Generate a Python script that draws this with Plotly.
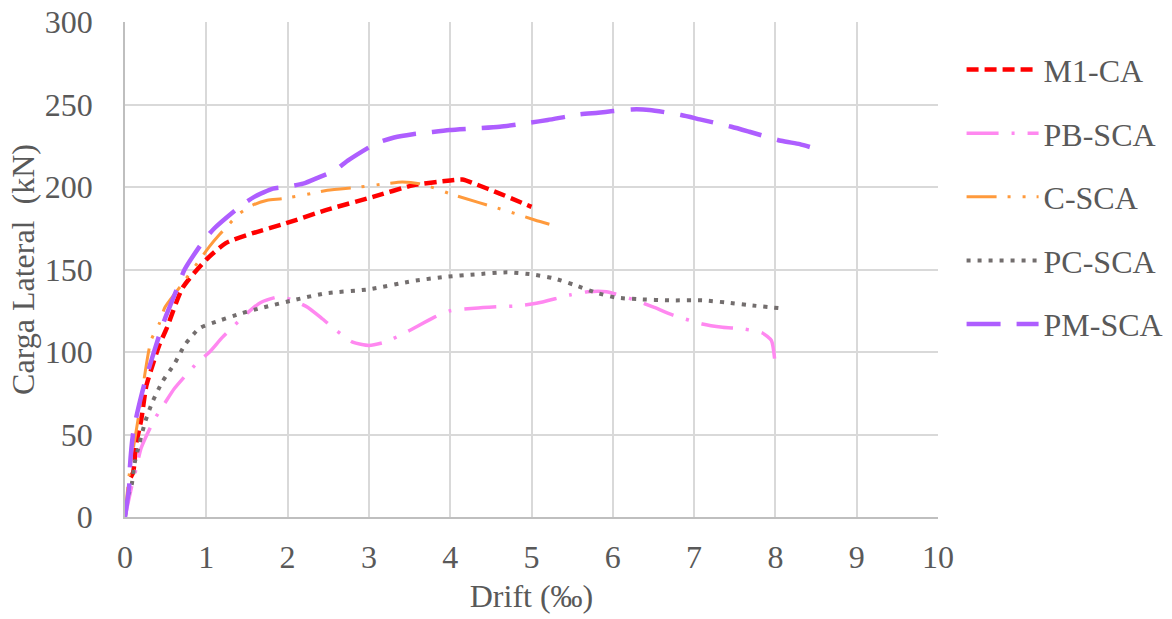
import plotly.graph_objects as go

# Lateral load vs drift curves for the tested walls
m1_ca_x = [0.07, 0.10, 0.14, 0.20, 0.26, 0.32, 0.42, 0.51, 0.71, 1.00, 1.24, 1.57, 1.98, 2.47, 3.05, 3.54, 4.00, 4.15, 4.30, 4.61, 5.00]
m1_ca_y = [24, 27, 45, 59, 79, 89, 104, 114, 139, 156, 166, 172, 178, 186, 194, 201, 204, 204.5, 202, 196, 188]

pb_sca_x = [0, 0.08, 0.14, 0.20, 0.36, 0.49, 0.61, 0.88, 1.04, 1.20, 1.49, 1.67, 1.90, 2.06, 2.25, 2.43, 2.60, 2.80, 3.00, 3.20, 3.50, 3.80, 4.00, 4.30, 4.61, 4.85, 5.06, 5.47, 5.69, 5.92, 6.30, 6.51, 6.74, 7.10, 7.35, 7.60, 7.84, 7.95, 7.99]
pb_sca_y = [0, 18, 30, 42, 59, 69, 78, 93, 100, 109, 123, 130, 133.5, 131.5, 127, 120, 113, 106, 104, 106, 113, 121, 125, 126.5, 127.5, 128, 129.5, 134.5, 136.5, 136.5, 131, 127, 122.4, 117, 115, 114, 111.5, 107, 96]

c_sca_x = [0, 0.05, 0.16, 0.32, 0.42, 0.49, 0.67, 0.92, 1.04, 1.16, 1.41, 1.57, 1.75, 1.94, 2.29, 2.49, 2.89, 3.21, 3.41, 3.62, 3.83, 3.99, 4.69, 5.04, 5.22]
c_sca_y = [0, 25, 59, 107, 117, 127, 139, 156, 164, 171, 184, 189, 192, 193, 196, 198, 200, 202, 203, 202, 199, 196, 185.6, 180, 177.4]

pc_sca_x = [0, 0.03, 0.08, 0.12, 0.18, 0.25, 0.34, 0.46, 0.61, 0.74, 0.92, 1.16, 1.43, 1.70, 2.08, 2.47, 3.00, 3.54, 3.95, 4.30, 4.70, 5.01, 5.27, 5.53, 5.79, 6.04, 6.31, 6.72, 7.11, 7.39, 7.66, 8.06]
pc_sca_y = [0, 12, 19, 33, 45, 58, 70, 82, 93, 104.6, 114.5, 119, 123.4, 127, 131.5, 135.6, 138, 143, 145.6, 147, 148.3, 147, 144.7, 140.6, 136, 133, 132, 131.3, 131.3, 130, 128.5, 126.5]

pm_sca_x = [0, 0.05, 0.06, 0.10, 0.15, 0.24, 0.30, 0.42, 0.49, 0.65, 0.73, 0.96, 1.10, 1.41, 1.59, 1.82, 1.98, 2.19, 2.39, 2.58, 2.74, 3.09, 3.31, 3.54, 3.72, 3.99, 4.61, 4.98, 5.20, 5.59, 5.82, 6.00, 6.23, 6.45, 6.84, 7.07, 7.46, 7.68, 8.07, 8.30, 8.44]
pm_sca_y = [0, 18, 30, 50.7, 63, 81, 91, 110, 120, 139.6, 149.7, 166.9, 175, 188, 194, 199, 200, 202, 206, 210, 216, 226.5, 230, 232, 233, 234.5, 236.5, 239, 240.6, 244, 245, 246, 247, 246.7, 243.6, 241, 236.5, 233.5, 228, 226, 224]

series = [
    ("M1-CA", m1_ca_x, m1_ca_y, "#FF0000", 4.5, "12px,6px"),
    ("PB-SCA", pb_sca_x, pb_sca_y, "#FF88F0", 3.5, "32px,13px,3px,13px"),
    ("C-SCA", c_sca_x, c_sca_y, "#FF9A3C", 3.0, "30px,11px,3px,12px,3px,11px"),
    ("PC-SCA", pc_sca_x, pc_sca_y, "#736E6E", 4.0, "4px,7px"),
    ("PM-SCA", pm_sca_x, pm_sca_y, "#AE5EFF", 4.5, "34px,16px"),
]

FONT = "Liberation Serif, Times New Roman, serif"
TEXT = "#595959"
FS = 32

fig = go.Figure()
for name, xs, ys, color, width, dash in series:
    fig.add_trace(go.Scatter(
        x=xs, y=ys, name=name, mode="lines", legendgroup=name,
        line=dict(color=color, width=width, dash=dash, shape="spline", smoothing=0.6),
    ))

fig.update_layout(
    width=1172, height=619,
    margin=dict(l=125, r=234, t=22, b=102, autoexpand=False),
    plot_bgcolor="white", paper_bgcolor="white",
    font=dict(family=FONT, size=FS, color=TEXT),
    legend=dict(
        x=1.029, y=0.959, xanchor="left", yanchor="top",
        font=dict(family=FONT, size=FS, color=TEXT),
        itemwidth=72, tracegroupgap=19, bgcolor="rgba(0,0,0,0)",
    ),
    showlegend=True,
)
fig.update_xaxes(
    range=[0, 10], dtick=1, tick0=0,
    showgrid=True, gridcolor="#D9D9D9", gridwidth=1.5,
    showline=True, linecolor="#BFBFBF", linewidth=1.5,
    zeroline=False, ticks="", ticklabelstandoff=11,
    tickfont=dict(family=FONT, size=FS, color=TEXT),
    title=dict(text="Drift (‰)", font=dict(family=FONT, size=FS, color=TEXT), standoff=10),
)
fig.update_yaxes(
    range=[0, 300], dtick=50, tick0=0,
    showgrid=True, gridcolor="#D9D9D9", gridwidth=1.5,
    showline=True, linecolor="#BFBFBF", linewidth=1.5,
    zeroline=False, ticks="", ticklabelstandoff=24,
    tickfont=dict(family=FONT, size=FS, color=TEXT),
    title=dict(text="Carga Lateral  (kN)", font=dict(family=FONT, size=FS, color=TEXT), standoff=1),
)

fig.write_html("out.html")
